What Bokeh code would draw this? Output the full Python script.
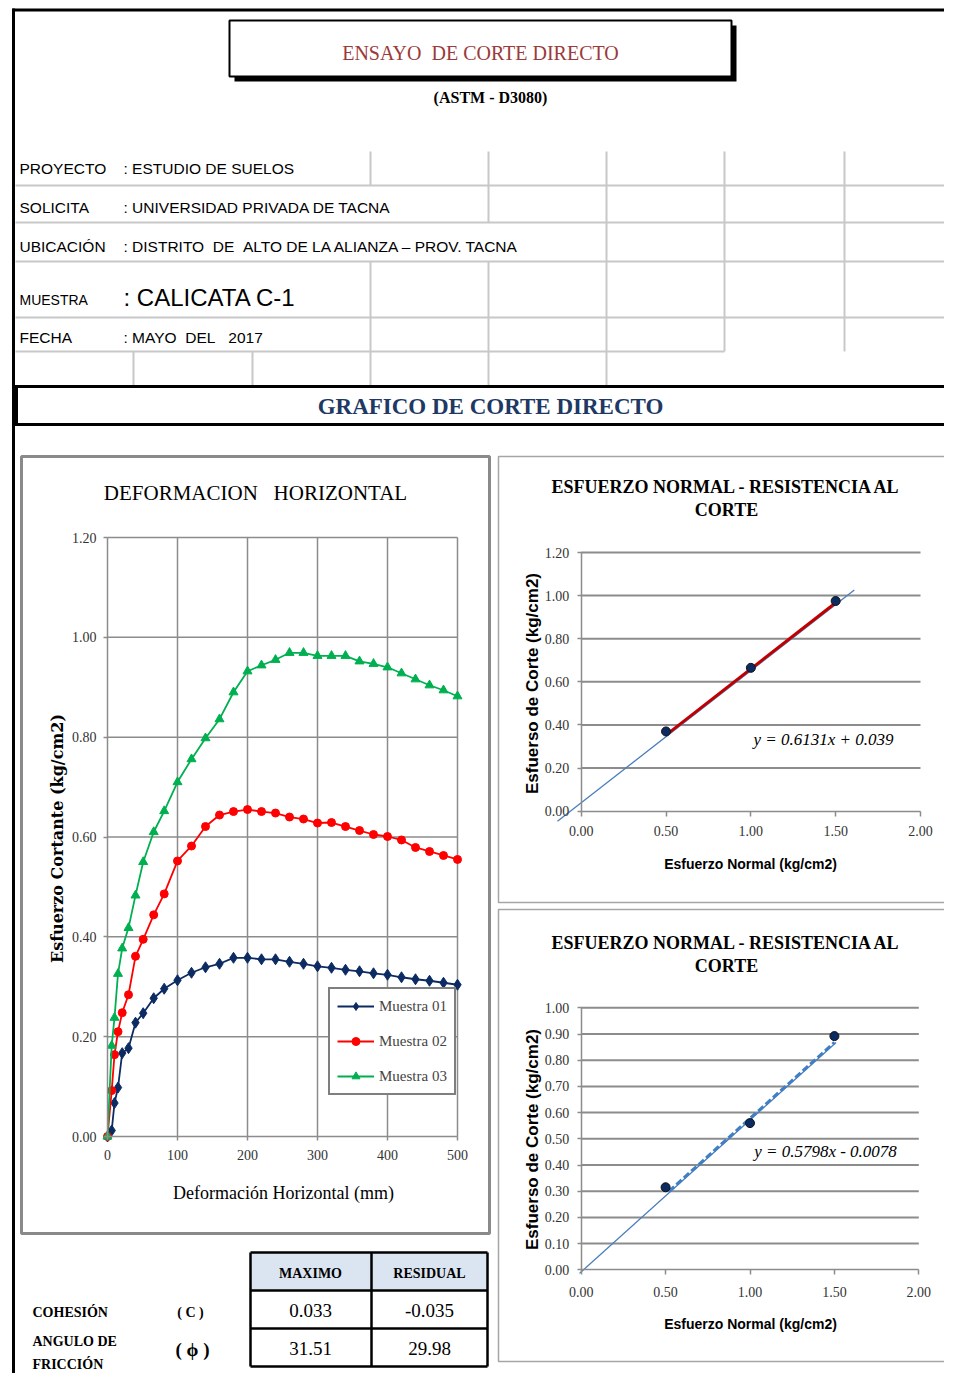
import math
import numpy as np
from bokeh.plotting import figure
from bokeh.models import (Range1d, LinearAxis, FixedTicker, NumeralTickFormatter,
                          ColumnDataSource, Legend, LegendItem)
from bokeh.core.properties import value
from bokeh.embed import file_html
from bokeh.resources import INLINE

# ---------------- data ----------------
deformacion = [0, 6, 10, 15, 21, 30, 40, 51, 66, 81, 100, 120, 140, 160, 180, 200,
               220, 240, 260, 280, 300, 320, 340, 360, 380, 400, 420, 440, 460, 480, 500]
muestra_01 = [0.000, 0.012, 0.067, 0.098, 0.167, 0.177, 0.228, 0.247, 0.277, 0.296, 0.313,
              0.328, 0.339, 0.346, 0.358, 0.358, 0.355, 0.355, 0.350, 0.346, 0.341, 0.338,
              0.334, 0.331, 0.327, 0.324, 0.319, 0.315, 0.312, 0.308, 0.304]
muestra_02 = [0.000, 0.092, 0.164, 0.210, 0.248, 0.284, 0.361, 0.395, 0.444, 0.486, 0.552,
              0.582, 0.621, 0.644, 0.651, 0.655, 0.651, 0.648, 0.640, 0.636, 0.628, 0.629,
              0.621, 0.613, 0.605, 0.601, 0.594, 0.579, 0.571, 0.563, 0.555]
muestra_03 = [0.000, 0.182, 0.238, 0.326, 0.377, 0.418, 0.483, 0.550, 0.610, 0.652, 0.710,
              0.756, 0.798, 0.836, 0.890, 0.932, 0.944, 0.955, 0.969, 0.969, 0.963, 0.963,
              0.963, 0.952, 0.947, 0.940, 0.928, 0.916, 0.904, 0.894, 0.882]
series_names = ["Muestra 01", "Muestra 02", "Muestra 03"]
def_xticks = [0, 100, 200, 300, 400, 500]
def_yticks = [0.0, 0.2, 0.4, 0.6, 0.8, 1.0, 1.2]

esf_normal = [0.5, 1.0, 1.5]
corte_max = [0.37, 0.665, 0.975]
corte_res = [0.315, 0.56, 0.892]
max_slope, max_intercept = 0.6131, 0.039
res_slope, res_intercept = 0.5798, -0.0078
max_trend_extent = [-0.14, 1.61]
res_trend_extent = [-0.01, 1.51]
norm_xticks = [0.0, 0.5, 1.0, 1.5, 2.0]
max_yticks = [0.0, 0.2, 0.4, 0.6, 0.8, 1.0, 1.2]
res_yticks = [0.0, 0.1, 0.2, 0.3, 0.4, 0.5, 0.6, 0.7, 0.8, 0.9, 1.0]

tabla_cols = ["MAXIMO", "RESIDUAL"]
cohesion = ["0.033", "-0.035"]
angulo = ["31.51", "29.98"]

# ---------------- styles ----------------
NB = "\u00a0"
SERIF = "Liberation Serif"
SANS = "Liberation Sans"
NAVY = "#0D2B63"
RED = "#FF0000"
GREEN = "#00B050"
GRID = "#8C8C8C"
LIGHT = "#C8C8C8"

PX0, PX1, PY0, PY1 = 0, 944, 0, 1373
p = figure(width=PX1 - PX0, height=PY1 - PY0, x_range=Range1d(PX0, PX1),
           y_range=Range1d(PY1, PY0), output_backend="svg", toolbar_location=None,
           min_border=0, x_axis_location=None, y_axis_location=None,
           outline_line_color=None, background_fill_color="white")
p.grid.visible = False


def xmap(d0, d1, a, b):
    s = (d1 - d0) / (b - a)
    return Range1d(d0 - (a - PX0) * s, d0 + (PX1 - a) * s)


def ymap(d0, d1, a, b):
    s = (d1 - d0) / (a - b)
    return Range1d(d0 - (PY1 - a) * s, d0 + (a - PY0) * s)


p.extra_x_ranges = {"lx": xmap(0, 500, 107, 457), "ax": xmap(0, 2, 580.7, 920),
                    "bx": xmap(0, 2, 580.7, 918.3)}
p.extra_y_ranges = {"ly": ymap(0, 1.2, 1136, 537), "ay": ymap(0, 1.2, 810.7, 552),
                    "by": ymap(0, 1.0, 1269.3, 1007.3)}


def txt(x, y, s, size, font=SERIF, color="black", align="left", style="normal", angle=0,
        baseline="middle"):
    p.text(x=[x], y=[y], text=[s.replace("  ", NB + NB)], text_font=value(font),
           text_font_size=size, text_color=color, text_align=align,
           text_baseline=baseline, text_font_style=style, angle=angle)


# ---------------- page frame & header ----------------
p.segment(x0=[12, 13], y0=[9.5, 8], x1=[952, 13], y1=[9.5, 1389], line_color="black", line_width=3)
# title box with shadow
p.quad(left=[234], right=[736], top=[25], bottom=[81], fill_color="black", line_color=None)
p.quad(left=[229], right=[731], top=[20], bottom=[76], fill_color="white",
       line_color="black", line_width=2)
txt(480, 52, "ENSAYO  DE CORTE DIRECTO", "20px", color="#9B3A3A", align="center")
txt(490, 97, "(ASTM - D3080)", "16px", style="bold", align="center")

# light grid of the header sheet
p.segment(x0=[15, 15, 15, 15, 15], y0=[185, 222, 261, 317, 351],
          x1=[952, 952, 952, 952, 724], y1=[185, 222, 261, 317, 351],
          line_color=LIGHT, line_width=2)
vx = [370, 488, 606, 724, 844, 488, 606, 724, 844, 606, 724, 844,
      370, 488, 606, 724, 844, 133, 252, 370, 488, 606]
vy0 = [151] * 5 + [185] * 4 + [222] * 3 + [261] * 5 + [351] * 5
vy1 = [185] * 5 + [222] * 4 + [261] * 3 + [351] * 5 + [385] * 5
p.segment(x0=vx, y0=vy0, x1=vx, y1=vy1, line_color=LIGHT, line_width=2)

labels = ["PROYECTO", "SOLICITA", "UBICACIÓN", "FECHA"]
vals = [": ESTUDIO DE SUELOS", ": UNIVERSIDAD PRIVADA DE TACNA",
        ": DISTRITO  DE  ALTO DE LA ALIANZA – PROV. TACNA", ": MAYO  DEL   2017"]
ys = [168, 207, 246, 337]
for lab, v, yy in zip(labels, vals, ys):
    txt(19, yy, lab, "15.5px", font=SANS)
    txt(123, yy, v, "15.5px", font=SANS)
txt(19, 299, "MUESTRA", "14px", font=SANS)
txt(123, 297, ": CALICATA C-1", "24px", font=SANS)

# GRAFICO banner
p.segment(x0=[13, 13, 16], y0=[386, 424, 386], x1=[952, 952, 16], y1=[386, 424, 424],
          line_color="black", line_width=3)
txt(490, 406, "GRAFICO DE CORTE DIRECTO", "23px", color="#203864", align="center", style="bold")

# ---------------- left chart: deformation ----------------
p.quad(left=[21], right=[489], top=[456], bottom=[1233], fill_color="white",
       line_color="#8A8A8A", line_width=3)
p.segment(x0=def_xticks[1:], y0=[0] * 5, x1=def_xticks[1:], y1=[def_yticks[-1]] * 5,
          x_range_name="lx", y_range_name="ly", line_color=GRID, line_width=1.5)
p.segment(x0=[0] * 6, y0=def_yticks[1:], x1=[def_xticks[-1]] * 6, y1=def_yticks[1:],
          x_range_name="lx", y_range_name="ly", line_color=GRID, line_width=1.5)


def style_axis(a, standoff, tick_out=4):
    a.axis_line_color = GRID
    a.axis_line_width = 1.5
    a.major_tick_line_color = GRID
    a.major_tick_line_width = 1.5
    a.major_tick_out = tick_out
    a.major_tick_in = 0
    a.minor_tick_out = 0
    a.minor_tick_in = 0
    a.major_label_text_font = SERIF
    a.major_label_text_font_size = "14px"
    a.major_label_text_color = "#333333"
    a.major_label_standoff = standoff


def add_axes(xr, yr, xticks, yticks, xfmt, yfmt, xs, ys_, xt=4, yt=4):
    xa = LinearAxis(x_range_name=xr, y_range_name=yr, fixed_location=0,
                    bounds=(xticks[0], xticks[-1]), ticker=FixedTicker(ticks=xticks),
                    formatter=NumeralTickFormatter(format=xfmt))
    style_axis(xa, xs, xt)
    p.add_layout(xa, "below")
    ya = LinearAxis(x_range_name=xr, y_range_name=yr, fixed_location=0,
                    bounds=(yticks[0], yticks[-1]), ticker=FixedTicker(ticks=yticks),
                    formatter=NumeralTickFormatter(format=yfmt))
    style_axis(ya, ys_, yt)
    p.add_layout(ya, "left")


add_axes("lx", "ly", def_xticks, def_yticks, "0", "0.00", 9, 7)

src = ColumnDataSource(dict(x=deformacion, m1=muestra_01, m2=muestra_02, m3=muestra_03))
items = []
for col, colr, mk, sz, name in [("m1", NAVY, "diamond", 11, series_names[0]),
                                 ("m2", RED, "circle", 8, series_names[1]),
                                 ("m3", GREEN, "triangle", 9, series_names[2])]:
    rl = p.line("x", col, source=src, x_range_name="lx", y_range_name="ly",
                line_color=colr, line_width=1.8)
    rs = p.scatter("x", col, source=src, x_range_name="lx", y_range_name="ly",
                   marker=mk, size=sz, fill_color=colr, line_color=colr)
    items.append(LegendItem(label=name, renderers=[rl, rs]))

leg = Legend(items=items, location=(328 - PX0, PY1 - 1095), margin=0, padding=7,
             spacing=15, glyph_width=37, glyph_height=20, label_height=20,
             label_standoff=5, border_line_color="black", border_line_width=2,
             label_text_font=SERIF, label_text_font_size="15px",
             background_fill_color="white", background_fill_alpha=1)
p.add_layout(leg)

txt(255, 492, "DEFORMACION   HORIZONTAL", "21px", align="center")
txt(57, 838, "Esfuerzo Cortante (kg/cm2)", "16px", font="DejaVu Serif", style="bold",
    align="center", angle=math.pi / 2)
txt(283, 1192, "Deformación Horizontal (mm)", "18px", align="center")

# ---------------- right charts ----------------
def normal_chart(xr, yr, yticks, box, title_y, corte, slope, intercept, extent,
                 fit_color, fit_dash, fit_shift, eq_xy, xlab_y, ylab_y, xs):
    p.quad(left=[box[0]], right=[box[1]], top=[box[2]], bottom=[box[3]], fill_color="white",
           line_color="#A6A6A6", line_width=1.5)
    n = len(yticks) - 1
    p.segment(x0=[0] * n, y0=yticks[1:], x1=[norm_xticks[-1]] * n, y1=yticks[1:],
              x_range_name=xr, y_range_name=yr, line_color=GRID, line_width=2)
    add_axes(xr, yr, norm_xticks, yticks, "0.00", "0.00", xs, 8, 5, 4)
    xt = np.array(extent)
    p.line(xt, slope * xt + intercept, x_range_name=xr, y_range_name=yr,
           line_color="#4A7EBB", line_width=1.3)
    xf = np.array([min(esf_normal) + 0.02, max(esf_normal)])
    p.line(xf, slope * xf + intercept + fit_shift, x_range_name=xr, y_range_name=yr,
           line_color=fit_color, line_width=3, line_dash=fit_dash)
    p.scatter(esf_normal, corte, x_range_name=xr, y_range_name=yr, marker="circle",
              size=9, fill_color=NAVY, line_color="#111111")
    sign = "+" if intercept >= 0 else "-"
    txt(eq_xy[0], eq_xy[1], f"y = {slope:.4f}x {sign} {abs(intercept):g}", "17px",
        style="italic", align="center")
    txt(726, title_y, "ESFUERZO NORMAL - RESISTENCIA AL", "18px", style="bold",
        align="center")
    txt(726, title_y + 23, "CORTE", "18px", style="bold", align="center")
    txt(750, xlab_y, "Esfuerzo Normal (kg/cm2)", "14px", font=SANS, style="bold",
        align="center")
    txt(532, ylab_y, "Esfuerso de Corte (kg/cm2)", "17px", font=SANS, style="bold",
        align="center", angle=math.pi / 2)


normal_chart("ax", "ay", max_yticks, (498, 951, 456, 902), 486, corte_max, max_slope,
             max_intercept, max_trend_extent, "#C00000", "solid", 0.008, (823, 739),
             863, 683, 10)
normal_chart("bx", "by", res_yticks, (498, 951, 909, 1361), 942, corte_res, res_slope,
             res_intercept, res_trend_extent, "#3F7FC4", "7 3", 0.006, (825, 1151),
             1323, 1139, 12)

# ---------------- summary table ----------------
p.quad(left=[250], right=[487], top=[1252], bottom=[1290], fill_color="#DBE5F1", line_color=None)
p.segment(x0=[250, 250, 250, 250, 250, 487, 371], y0=[1252, 1290, 1328, 1366, 1252, 1252, 1252],
          x1=[487, 487, 487, 487, 250, 487, 371], y1=[1252, 1290, 1328, 1366, 1366, 1366, 1366],
          line_color="black", line_width=2.5)
for cx, head, c, a in zip([310, 429], tabla_cols, cohesion, angulo):
    txt(cx, 1273, head, "14px", style="bold", align="center")
    txt(cx, 1310, c, "19px", align="center")
    txt(cx, 1348, a, "19px", align="center")
txt(32, 1312, "COHESIÓN", "14px", style="bold")
txt(190, 1312, "( C )", "14px", style="bold", align="center")
txt(32, 1341, "ANGULO DE", "14px", style="bold")
txt(32, 1364, "FRICCIÓN", "14px", style="bold")
txt(192, 1349, "( ϕ )", "19px", style="bold", align="center")

open("out.html", "w").write(file_html(p, INLINE))
